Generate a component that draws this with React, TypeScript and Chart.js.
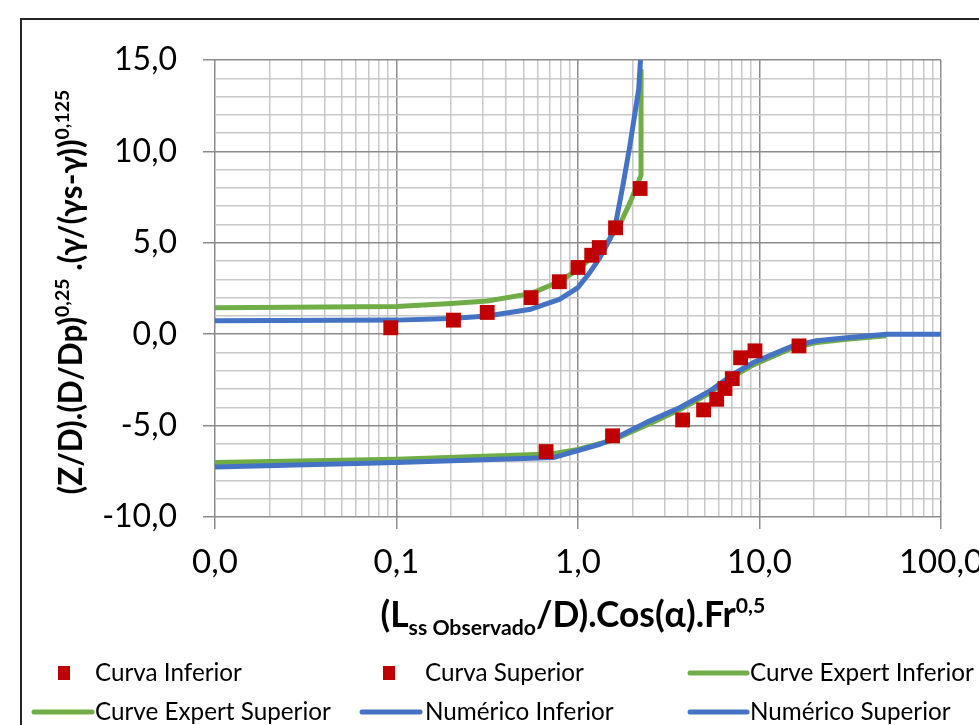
import React, { useEffect, useRef } from 'react';
import { Chart, registerables } from 'chart.js';

Chart.register(...registerables);

// ---- data ----
const curvaInferiorX = [0.667, 1.55, 3.77, 4.92, 5.81, 6.45, 7.08, 7.87, 9.44, 16.5];
const curvaInferiorY = [-6.42, -5.56, -4.69, -4.14, -3.56, -2.97, -2.43, -1.29, -0.91, -0.64];

const curvaSuperiorX = [0.093, 0.206, 0.316, 0.551, 0.789, 1.0, 1.19, 1.31, 1.61, 2.2];
const curvaSuperiorY = [0.35, 0.77, 1.19, 2.0, 2.87, 3.65, 4.32, 4.74, 5.82, 7.97];

const expertInferiorX = [0.01, 0.1, 0.7, 1.0, 1.55, 2.5, 3.65, 5.34, 7.17, 9.24, 11.9, 15.3, 20.6, 31.3, 50];
const expertInferiorY = [-7.02, -6.84, -6.56, -6.3, -5.8, -4.88, -4.12, -3.2, -2.3, -1.68, -1.2, -0.74, -0.46, -0.27, -0.08];

const expertSuperiorX = [0.01, 0.1, 0.2, 0.316, 0.55, 0.79, 1.0, 1.19, 1.44, 1.7, 1.934, 2.225, 2.225];
const expertSuperiorY = [1.45, 1.51, 1.68, 1.82, 2.22, 2.88, 3.55, 4.19, 5.0, 6.0, 7.2, 8.7, 14.5];

const numericoInferiorX = [0.01, 0.1, 0.5, 0.731, 1.32, 1.56, 1.7, 2.49, 3.65, 5.34, 7.17, 9.24, 11.9, 15.3, 20.6, 31.3, 50.1, 100];
const numericoInferiorY = [-7.26, -7.02, -6.8, -6.75, -6.02, -5.74, -5.56, -4.74, -4.01, -3.1, -2.19, -1.55, -1.09, -0.64, -0.36, -0.18, 0.0, 0.0];

const numericoSuperiorX = [0.01, 0.1, 0.2, 0.316, 0.55, 0.79, 1.0, 1.16, 1.32, 1.5, 1.63, 1.78, 1.93, 2.16, 2.21];
const numericoSuperiorY = [0.73, 0.77, 0.86, 1.0, 1.37, 1.91, 2.55, 3.37, 4.19, 5.2, 6.29, 8.3, 10.3, 13.4, 15];

const seriesLabels = [
  'Curva Inferior',
  'Curva Superior',
  'Curve Expert Inferior',
  'Curve Expert Superior',
  'Numérico Inferior',
  'Numérico Superior',
];

const xDecades = [0.01, 0.1, 1, 10, 100];
const xTickLabels = ['0,0', '0,1', '1,0', '10,0', '100,0'];
const xMinorMultipliers = [1, 2, 3, 4, 5, 6, 7, 8, 9];
const yMajorTicks = [-10, -5, 0, 5, 10, 15];
const yTickLabels = ['-10,0', '-5,0', '0,0', '5,0', '10,0', '15,0'];

const xTitleParts = [
  { t: '(L', r: 1, dy: 0 },
  { t: 'ss Observado', r: 0.6, dy: 0.24 },
  { t: '/D).Cos(α).Fr', r: 1, dy: 0 },
  { t: '0,5', r: 0.6, dy: -0.4 },
];
const yTitleParts = [
  { t: '(Z/D).(D/Dp)', r: 1, dy: 0 },
  { t: '0,25', r: 0.62, dy: -0.42 },
  { t: ' .(γ/(γs-γ))', r: 1, dy: 0 },
  { t: '0,125', r: 0.62, dy: -0.42 },
];

const RED = '#C00000';
const GREEN = '#70AD47';
const BLUE = '#4472C4';
const GRID_MAJOR = '#8c8c8c';
const GRID_MINOR = '#c8c8c8';
const FONT = 'Lato, "Open Sans", sans-serif';

const xTickValues: number[] = [];
xDecades.slice(0, -1).forEach((d) => xMinorMultipliers.forEach((m) => xTickValues.push(+(d * m).toPrecision(6))));
xTickValues.push(xDecades[xDecades.length - 1]);

const isDecade = (v: number) => v != null && Math.abs(Math.log10(v) - Math.round(Math.log10(v))) < 1e-6;
const zip = (xs: number[], ys: number[]) => xs.map((x, i) => ({ x, y: ys[i] }));

function drawRich(ctx: CanvasRenderingContext2D, parts: any[], cx: number, baseline: number, target: number, weight: string) {
  const base = 30;
  let total = 0;
  parts.forEach((p) => {
    ctx.font = `${weight} ${base * p.r}px ${FONT}`;
    total += ctx.measureText(p.t).width;
  });
  const s = target / total;
  const size = base * s;
  let x = cx - target / 2;
  ctx.textBaseline = 'alphabetic';
  ctx.textAlign = 'left';
  parts.forEach((p) => {
    ctx.font = `${weight} ${size * p.r}px ${FONT}`;
    ctx.fillText(p.t, x, baseline + p.dy * size);
    x += ctx.measureText(p.t).width;
  });
}

const legendSlots = [
  { ds: 0, row: 0, kind: 'marker', sx: 64, tx: 95 },
  { ds: 1, row: 0, kind: 'marker', sx: 389, tx: 425 },
  { ds: 2, row: 0, kind: 'line', sx: 690, ex: 747, tx: 750 },
  { ds: 3, row: 1, kind: 'line', sx: 34, ex: 92, tx: 95 },
  { ds: 4, row: 1, kind: 'line', sx: 362, ex: 420, tx: 425 },
  { ds: 5, row: 1, kind: 'line', sx: 690, ex: 747, tx: 750 },
];
const legendRows = [673, 712];

const decorPlugin = {
  id: 'decor',
  afterDraw(chart: any) {
    const ctx: CanvasRenderingContext2D = chart.ctx;
    ctx.save();
    // outer frame
    ctx.strokeStyle = '#262626';
    ctx.lineWidth = 2;
    ctx.beginPath();
    ctx.moveTo(21, 760);
    ctx.lineTo(21, 19);
    ctx.lineTo(1000, 19);
    ctx.stroke();

    ctx.fillStyle = '#000';
    // x title
    drawRich(ctx, xTitleParts, 573, 627, 385, 'bold');
    // y title
    ctx.save();
    ctx.translate(82, 292);
    ctx.rotate(-Math.PI / 2);
    drawRich(ctx, yTitleParts, 0, 0, 405, 'bold');
    ctx.restore();

    // legend
    ctx.font = `26px ${FONT}`;
    const w = ctx.measureText(seriesLabels[0]).width;
    const lsize = 26 * (147 / w);
    ctx.font = `${lsize}px ${FONT}`;
    ctx.textBaseline = 'middle';
    ctx.textAlign = 'left';
    legendSlots.forEach((s) => {
      const ds = chart.data.datasets[s.ds];
      const y = legendRows[s.row];
      if (s.kind === 'marker') {
        ctx.fillStyle = ds.backgroundColor;
        ctx.fillRect(s.sx - 6, y - 7, 12, 14);
      } else {
        ctx.strokeStyle = ds.borderColor;
        ctx.lineWidth = 5;
        ctx.lineCap = 'round';
        ctx.beginPath();
        ctx.moveTo(s.sx, y);
        ctx.lineTo(s.ex as number, y);
        ctx.stroke();
      }
      ctx.fillStyle = '#000';
      ctx.fillText(ds.label, s.tx, y);
    });
    ctx.restore();
  },
};

export default function App() {
  const ref = useRef<HTMLCanvasElement | null>(null);

  useEffect(() => {
    let chart: Chart | null = null;
    let cancelled = false;
    const make = () => {
      if (cancelled || !ref.current) return;
      const lineDs = (i: number, xs: number[], ys: number[], color: string, order: number) => ({
        label: seriesLabels[i],
        data: zip(xs, ys),
        showLine: true,
        pointRadius: 0,
        borderColor: color,
        backgroundColor: color,
        borderWidth: 5,
        tension: 0,
        borderJoinStyle: 'round',
        order,
      });
      const markerDs = (i: number, xs: number[], ys: number[]) => ({
        label: seriesLabels[i],
        data: zip(xs, ys),
        showLine: false,
        pointStyle: 'rect',
        pointRadius: 10.5,
        pointBorderWidth: 0,
        backgroundColor: RED,
        borderColor: RED,
        order: 0,
      });
      chart = new Chart(ref.current, {
        type: 'scatter',
        data: {
          datasets: [
            markerDs(0, curvaInferiorX, curvaInferiorY),
            markerDs(1, curvaSuperiorX, curvaSuperiorY),
            lineDs(2, expertInferiorX, expertInferiorY, GREEN, 2),
            lineDs(3, expertSuperiorX, expertSuperiorY, GREEN, 2),
            lineDs(4, numericoInferiorX, numericoInferiorY, BLUE, 1),
            lineDs(5, numericoSuperiorX, numericoSuperiorY, BLUE, 1),
          ] as any,
        },
        options: {
          animation: false,
          responsive: true,
          maintainAspectRatio: false,
          events: [],
          layout: { padding: { left: 0, right: 38, top: 60, bottom: 0 } },
          plugins: { legend: { display: false }, tooltip: { enabled: false }, title: { display: false } },
          scales: {
            x: {
              type: 'logarithmic',
              min: 0.01,
              max: 100,
              afterBuildTicks: (s: any) => {
                s.ticks = xTickValues.map((v) => ({ value: v }));
              },
              afterFit: (s: any) => {
                s.height = 208;
                s.paddingLeft = 0;
                s.paddingRight = 0;
              },
              ticks: {
                autoSkip: false,
                maxRotation: 0,
                minRotation: 0,
                padding: 14,
                color: '#000',
                font: { family: FONT, size: 33 },
                callback: (v: any) => {
                  const i = xDecades.findIndex((d) => Math.abs(d - v) < d * 1e-6);
                  return i >= 0 ? xTickLabels[i] : '';
                },
              },
              grid: {
                color: (c: any) => (isDecade(c.tick?.value) ? GRID_MAJOR : GRID_MINOR),
                tickColor: (c: any) => (isDecade(c.tick?.value) ? GRID_MAJOR : 'rgba(0,0,0,0)'),
                lineWidth: 1.5,
                tickLength: 12,
              },
              border: { display: false },
            },
            y: {
              type: 'linear',
              min: -10,
              max: 15,
              afterFit: (s: any) => {
                s.width = 215;
              },
              ticks: {
                stepSize: 1,
                autoSkip: false,
                padding: 26,
                color: '#000',
                font: { family: FONT, size: 32 },
                callback: (v: any) => {
                  const i = yMajorTicks.indexOf(v);
                  return i >= 0 ? yTickLabels[i] : '';
                },
              },
              grid: {
                color: (c: any) => (yMajorTicks.includes(c.tick?.value) ? GRID_MAJOR : GRID_MINOR),
                tickColor: (c: any) => (yMajorTicks.includes(c.tick?.value) ? GRID_MAJOR : 'rgba(0,0,0,0)'),
                lineWidth: 1.5,
                tickLength: 12,
              },
              border: { display: false },
            },
          },
        } as any,
        plugins: [decorPlugin],
      });
    };
    const fonts = (document as any).fonts;
    if (fonts && fonts.load) {
      Promise.all([fonts.load(`33px Lato`), fonts.load(`bold 30px Lato`)]).then(make, make);
    } else {
      make();
    }
    return () => {
      cancelled = true;
      if (chart) chart.destroy();
    };
  }, []);

  return (
    <div style={{ position: 'fixed', left: 0, top: 0, width: 979, height: 725, background: '#fff', overflow: 'hidden' }}>
      <canvas ref={ref} />
    </div>
  );
}
